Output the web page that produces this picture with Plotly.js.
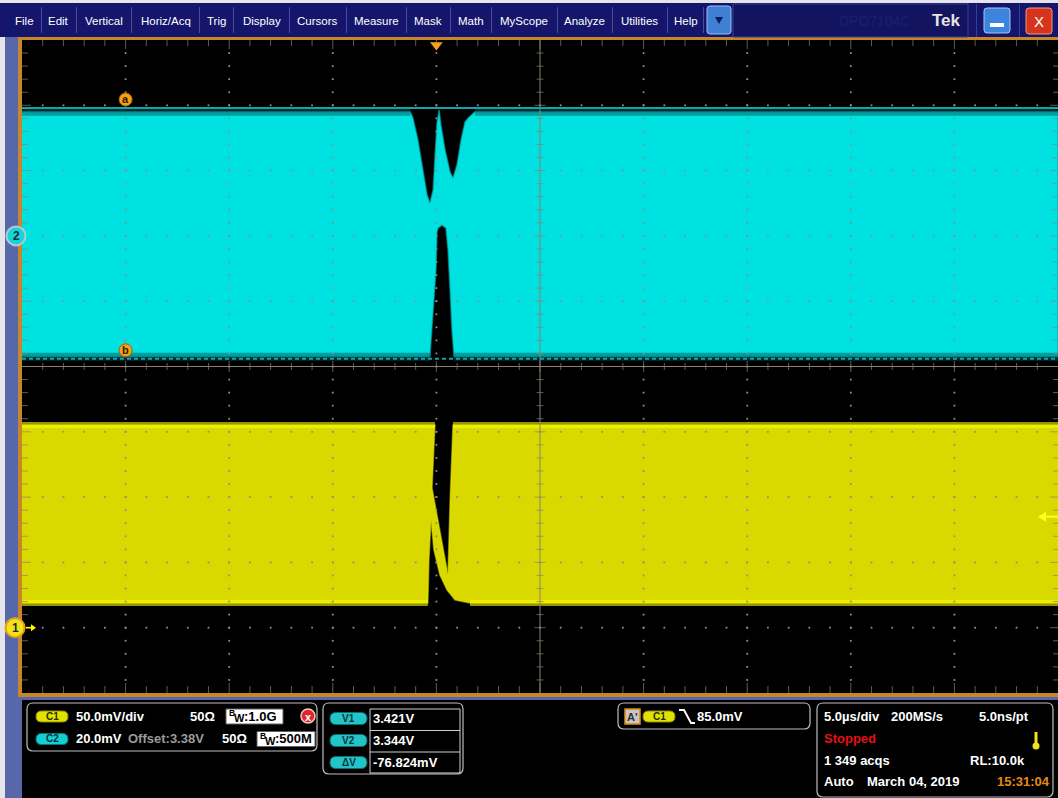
<!DOCTYPE html>
<html>
<head>
<meta charset="utf-8">
<script src="https://cdn.plot.ly/plotly-3.0.1.min.js"></script>
<style>
  html, body { margin: 0; padding: 0; background: #000; overflow: hidden; }
  #scope { width: 1058px; height: 798px; }
</style>
</head>
<body>
<div id="scope"></div>
<script>
// ---------------- acquisition data ----------------
// Channel 2 persistence envelope outline (time in µs, volts): top edge left->right, bottom edge right->left
const c2Time = [-20, -1.27, -1.13, -0.89, -0.65, -0.45, -0.31, -0.16, -0.07, 0.03, 0.13, 0.22, 0.42, 0.66, 0.80, 0.99, 1.19, 1.38, 1.53, 1.86, 30,
                30, 0.85, 0.75, 0.66, 0.56, 0.46, 0.27, 0.08, 0.03, -0.02, -0.16, -0.26, -0.31, -20];
const c2Volt = [3.4200, 3.4200, 3.4181, 3.4114, 3.4022, 3.3945, 3.3921, 3.3961, 3.4062, 3.4166, 3.4206, 3.4160, 3.4083, 3.4016, 3.3997, 3.4037, 3.4114, 3.4169, 3.4181, 3.4200, 3.4200,
                3.3450, 3.3450, 3.3532, 3.3654, 3.3777, 3.3844, 3.3853, 3.3844, 3.3832, 3.3716, 3.3593, 3.3501, 3.3450, 3.3450];

// Channel 1 persistence envelope outline (time in µs, volts)
const c1Time = [-20, -0.07, -0.21, 0.17, 0.56, 0.66, 0.80, 30,
                30, 1.62, 0.90, 0.51, 0.17, -0.12, -0.26, -0.36, -0.41, -20];
const c1Volt = [0.1552, 0.1552, 0.1070, 0.0748, 0.0404, 0.0978, 0.1552, 0.1552,
                0.0189, 0.0189, 0.0212, 0.0289, 0.0404, 0.0595, 0.0825, 0.0518, 0.0189, 0.0189];

// vertical / horizontal / trigger settings
const channelNames = ['C1', 'C2'];
const channelScale = [0.05, 0.02];      // V/div
const channelPosition = [-4, 2];        // div
const channelOffset = [0, 3.382];       // V
const channelTermination = ['50Ω', '50Ω'];
const channelBandwidth = ['1.0G', '500M'];
const timePerDiv = 5;                   // µs/div
const triggerTime = 0;                  // µs
const triggerDivFromLeft = 4;
const triggerLevel = 0.085;             // V on C1
const cursorNames = ['a', 'b'];
const cursorVolts = [3.42118, 3.344356]; // V on C2
const cursorTime = -15;                 // µs, where cursor tags sit

const menuLabels = ['File', 'Edit', 'Vertical', 'Horiz/Acq', 'Trig', 'Display', 'Cursors', 'Measure', 'Mask', 'Math', 'MyScope', 'Analyze', 'Utilities', 'Help'];
const acqLines = [['5.0µs/div', '200MS/s', '5.0ns/pt'], ['Stopped'], ['1 349 acqs', 'RL:10.0k'], ['Auto', 'March 04, 2019', '15:31:04']];

// ---------------- geometry helpers (pixel -> paper) ----------------
const L = 22, T = 40, PW = 1036, PH = 653;
const px = x => (x - L) / PW;
const py = y => (T + PH - y) / PH;
const pyInv = p => T + PH * (1 - p);
const FONT = 'Liberation Sans, Arial, sans-serif';

const HDIV = 10, VDIV = 10;
const xRange = [triggerTime - triggerDivFromLeft * timePerDiv, triggerTime + (HDIV - triggerDivFromLeft) * timePerDiv];
const chRange = i => [channelOffset[i] + (-VDIV / 2 - channelPosition[i]) * channelScale[i],
                      channelOffset[i] + (VDIV / 2 - channelPosition[i]) * channelScale[i]];
const c1Range = chRange(0), c2Range = chRange(1);
const xp = t => (t - xRange[0]) / (xRange[1] - xRange[0]);
const yp = (v, r) => (v - r[0]) / (r[1] - r[0]);
const pxPerUs = PW / (xRange[1] - xRange[0]);
const pxPerDiv = PH / VDIV;

const shapes = [];
const ann = [];

function rrPath(x0, y0, x1, y1, r) {
  const P = (x, y) => px(x) + ',' + py(y);
  return 'M' + P(x0 + r, y0) + ' L' + P(x1 - r, y0) + ' Q' + P(x1, y0) + ' ' + P(x1, y0 + r) +
         ' L' + P(x1, y1 - r) + ' Q' + P(x1, y1) + ' ' + P(x1 - r, y1) +
         ' L' + P(x0 + r, y1) + ' Q' + P(x0, y1) + ' ' + P(x0, y1 - r) +
         ' L' + P(x0, y0 + r) + ' Q' + P(x0, y0) + ' ' + P(x0 + r, y0) + ' Z';
}
function polyPath(pts, close) {
  return pts.map((p, i) => (i ? 'L' : 'M') + px(p[0]) + ',' + py(p[1])).join(' ') + (close ? ' Z' : '');
}
function rbox(x0, y0, x1, y1, fill, line, lw, r) {
  shapes.push({type: 'path', xref: 'paper', yref: 'paper', path: rrPath(x0, y0, x1, y1, r),
    fillcolor: fill || 'rgba(0,0,0,0)', line: {color: line || 'rgba(0,0,0,0)', width: lw || 0}, layer: 'above'});
}
function rect(x0, y0, x1, y1, fill, line, lw) {
  shapes.push({type: 'rect', xref: 'paper', yref: 'paper', x0: px(x0), x1: px(x1), y0: py(y1), y1: py(y0),
    fillcolor: fill || 'rgba(0,0,0,0)', line: {color: line || 'rgba(0,0,0,0)', width: lw || 0}, layer: 'above'});
}
function hline(x0, x1, y, color, w) {
  shapes.push({type: 'line', xref: 'paper', yref: 'paper', x0: px(x0), x1: px(x1), y0: py(y), y1: py(y), line: {color: color, width: w}, layer: 'above'});
}
function arrowRight(x0, x1, y, color) {
  // stem then filled head pointing right
  shapes.push({type: 'line', xref: 'paper', yref: 'paper', x0: px(x0), x1: px(x1 - 4), y0: py(y), y1: py(y), line: {color: color, width: 1.6}, layer: 'above'});
  shapes.push({type: 'path', xref: 'paper', yref: 'paper', path: polyPath([[x1 - 5, y - 3.5], [x1, y], [x1 - 5, y + 3.5]], true),
    fillcolor: color, line: {width: 0}, layer: 'above'});
}
function arrowLeft(x0, x1, y, color) {
  shapes.push({type: 'line', xref: 'paper', yref: 'paper', x0: px(x0 + 6), x1: px(x1), y0: py(y), y1: py(y), line: {color: color, width: 2}, layer: 'above'});
  shapes.push({type: 'path', xref: 'paper', yref: 'paper', path: polyPath([[x0 + 8, y - 5], [x0, y], [x0 + 8, y + 5]], true),
    fillcolor: color, line: {width: 0}, layer: 'above'});
}
function circlePx(xPaper, yPaper, r, fill, line, lw) {
  shapes.push({type: 'circle', xref: 'paper', yref: 'paper', xsizemode: 'pixel', ysizemode: 'pixel',
    xanchor: xPaper, yanchor: yPaper, x0: -r, x1: r, y0: -r, y1: r,
    fillcolor: fill, line: {color: line || 'rgba(0,0,0,0)', width: lw || 0}, layer: 'above'});
}
function textPaper(xPaper, yPaper, str, o) {
  o = o || {};
  ann.push({xref: 'paper', yref: 'paper', x: xPaper, y: yPaper, text: str, showarrow: false,
    xanchor: o.anchor || 'left', yanchor: 'middle', borderpad: 0, yshift: o.yshift || 0, xshift: o.xshift || 0,
    font: {family: o.family || FONT, size: o.size || 13, color: o.color || '#ffffff'}});
}
function text(x, y, str, o) { textPaper(px(x), py(y), str, o); }
const B = s => '<b>' + s + '</b>';

// ---------------- window chrome ----------------
rect(0, 0, 1058, 3, '#e4e4ea');
rect(0, 0, 5, 798, '#e4e4ea');
rect(0, 3, 1058, 37, '#15166b');
rect(5, 37, 18, 798, '#5866aa');
rect(5, 697, 22, 798, '#5866aa');
rect(18, 697, 1058, 700, '#5866aa');
// orange frame around the graticule
rect(18, 37, 22, 697, '#c8862a');
rect(18, 37, 1058, 40, '#c8862a');
rect(18, 693, 1058, 697, '#c8862a');

// menu bar
const menuCenters = [24.5, 58, 104, 165.5, 216, 262, 317, 376, 428, 470.5, 524, 584.5, 639.5, 686];
const menuSeps = [41, 76, 131, 199, 233, 289, 346, 406, 450, 491, 557, 612, 667, 703];
menuSeps.forEach(x => rect(x, 7, x + 1, 33, '#474c9c'));
menuLabels.forEach((m, i) => text(menuCenters[i], 20.5, m, {anchor: 'center', size: 11.5}));
rbox(707, 6, 731, 34, '#3f7fd4', '#96bff2', 1, 3);
shapes.push({type: 'path', xref: 'paper', yref: 'paper', path: polyPath([[715, 17], [723, 17], [719, 24]], true),
  fillcolor: '#0b1b60', line: {width: 0}, layer: 'above'});
rect(733, 4, 968, 37, '#121460', '#34418e', 1);
text(875, 20.5, 'DPO7104C', {anchor: 'center', size: 14, color: '#19206e'});
text(946, 20, B('Tek'), {anchor: 'center', size: 17, color: '#e4e4e4'});
rect(976, 4, 977, 37, '#34418e');
rect(1019, 4, 1020, 37, '#34418e');
rbox(984, 8, 1010, 33, '#3d84de', '#a2c8f4', 1, 3);
rect(990, 23, 1004, 27, '#ffffff');
rbox(1026, 8, 1052, 34, '#d6341c', '#f29a80', 1, 3);
text(1039, 21.5, 'X', {anchor: 'center', size: 15, color: '#ffffff'});

// ---------------- channel / cursor / trigger markers ----------------
const chColor = ['#ffff00', '#00e2e2'];
const markerFill = ['#f2e414', '#12d6dc'];
const markerRing = ['#e3a020', '#b8c8cc'];
const markerX = [15, 16];
[0, 1].forEach(i => {
  const yP = (channelPosition[i] + VDIV / 2) / VDIV;
  circlePx(px(markerX[i]), yP, 9.5, markerFill[i], markerRing[i], 2);
  textPaper(px(markerX[i]), yP, B(String(i + 1)), {anchor: 'center', size: 12, color: '#1a2a30'});
  arrowRight(26, 36, pyInv(yP), chColor[i]);
});

// cursors a / b on channel 2
cursorVolts.forEach((v, i) => {
  shapes.push({type: 'line', xref: 'paper', yref: 'y2', x0: 0, x1: 1, y0: v, y1: v,
    line: {color: '#12a4aa', width: 2, dash: i === 0 ? 'solid' : '4px,3px'}, layer: 'above'});
});
cursorVolts.forEach((v, i) => {
  const yP = yp(v, c2Range);
  shapes.push({type: 'circle', xref: 'paper', yref: 'paper', xsizemode: 'pixel', ysizemode: 'pixel',
    xanchor: xp(cursorTime), yanchor: yP, x0: -6.5, x1: 6.5, y0: 2, y1: 15,
    fillcolor: '#f2a414', line: {color: '#a86000', width: 1}, layer: 'above'});
  textPaper(xp(cursorTime), yP, B(cursorNames[i]), {anchor: 'center', size: 11, color: '#2a1800', yshift: 8.5});
});

// trigger level arrow on the right edge (channel 1)
arrowLeft(1038, 1058, pyInv(yp(triggerLevel, c1Range)), '#ffff20');

// ---------------- readout panels ----------------
const fmtV = v => v.toFixed(3) + 'V';
const fmtmV = v => (v * 1000).toFixed(1) + 'mV';
const panel = '#bdbdbd';

// vertical settings
rbox(27, 703, 317, 751, null, panel, 1.2, 6);
const rowY = [716.5, 739];
const bwBox = [[226, 283], [257, 315]];
const termX = [216, 248];
[0, 1].forEach(i => {
  const y = rowY[i];
  rbox(36, y - 5.5, 68, y + 5.5, i === 0 ? '#e2e200' : '#14cfd2', i === 0 ? '#8a8a00' : '#0a7676', 1, 5.5);
  text(52, y, B(channelNames[i]), {anchor: 'center', size: 10, color: i === 0 ? '#2a2a00' : '#05303a'});
  text(termX[i], y, B(channelTermination[i]), {anchor: 'right'});
  rect(bwBox[i][0], y - 7.5, bwBox[i][1], y + 7.5, '#ffffff', '#606060', 1);
  // bandwidth tag: small raised "B" then lowered "W" and the value
  text(bwBox[i][0] + 2, y - 3.5, B('B'), {color: '#000000', size: 8.5});
  text(bwBox[i][0] + 7, y + 1.5, B('W'), {color: '#000000', size: 11});
  text(bwBox[i][0] + 17, y, B(':' + channelBandwidth[i]), {color: '#000000', size: 13});
});
text(75, rowY[0], B(fmtmV(channelScale[0]) + '/div'));
text(75, rowY[1], B(fmtmV(channelScale[1])));
text(127, rowY[1], B('Offset:' + channelOffset[1].toFixed(2) + 'V'), {color: '#9a9a9a'});
circlePx(px(308), py(716), 7, '#e02828', '#f4c8c8', 1.5);
text(308, 716.5, B('x'), {anchor: 'center', size: 11, color: '#ffffff'});

// cursor readouts
rbox(323, 703, 463, 774, null, panel, 1.2, 6);
rect(370, 709, 460, 773, null, '#d0d0d0', 1);
hline(370, 460, 730.5, '#d0d0d0', 1);
hline(370, 460, 752, '#d0d0d0', 1);
const deltaV = cursorVolts[1] - cursorVolts[0];
const cursorRows = [['V1', fmtV(cursorVolts[0])], ['V2', fmtV(cursorVolts[1])], ['ΔV', (deltaV * 1000).toFixed(3) + 'mV']];
const cursorRowY = [718.5, 740.5, 762.5];
cursorRows.forEach((r, i) => {
  const y = cursorRowY[i];
  rbox(330, y - 6, 367, y + 6, '#22c4c8', '#0d7070', 1, 6);
  text(348.5, y, B(r[0]), {anchor: 'center', size: 10, color: '#05343c'});
  text(372, y, B(r[1]));
});

// trigger readout
rbox(618, 703, 810, 729, null, panel, 1.2, 6);
rect(625, 709, 640, 724, '#c6c6c6', '#e08a10', 1.5);
text(632.5, 716.5, B("A'"), {anchor: 'center', size: 11, color: '#303030'});
rbox(643, 711, 675, 722, '#e2e200', '#8a8a00', 1, 5.5);
text(659, 716.5, B(channelNames[0]), {anchor: 'center', size: 10, color: '#2a2a00'});
shapes.push({type: 'path', xref: 'paper', yref: 'paper', layer: 'above', line: {color: '#ffffff', width: 2},
  path: polyPath([[679, 710], [684, 710], [691, 723], [695, 723]], false)});
text(696, 716.5, B(fmtmV(triggerLevel)));

// horizontal / acquisition readout
rbox(817, 703, 1053, 797, null, panel, 1.2, 6);
text(823, 716.5, B(acqLines[0][0]));
text(890, 716.5, B(acqLines[0][1]));
text(978, 716.5, B(acqLines[0][2]));
text(823, 738.5, B(acqLines[1][0]), {color: '#e81010'});
text(823, 760.5, B(acqLines[2][0]));
text(969, 760.5, B(acqLines[2][1]));
text(823, 782, B(acqLines[3][0]));
text(866, 782, B(acqLines[3][1]));
text(996, 782, B(acqLines[3][2]), {color: '#e88a10'});
rect(1034.5, 732, 1037.5, 745, '#f2e21c');
circlePx(px(1036), py(746), 3.5, '#f2e21c');

// ---------------- graticule (in divisions, drawn over the waveforms) ----------------
const gridColor = '#8a8272';
const dotX = [], dotY = [];
const tCenter = xRange[0] + (HDIV / 2) * timePerDiv;
for (let i = 1; i < HDIV; i++) {
  if (i === HDIV / 2) continue;
  for (let k = 1; k < VDIV * 5; k++) { dotX.push(xRange[0] + i * timePerDiv); dotY.push(-VDIV / 2 + k * 0.2); }
}
for (let d = -VDIV / 2 + 1; d < VDIV / 2; d++) {
  if (d === 0) continue;
  for (let k = 1; k < HDIV * 5; k++) { dotX.push(xRange[0] + k * timePerDiv / 5); dotY.push(d); }
}
const nsX = [], nsY = [], nsS = [];
const ewX = [], ewY = [], ewS = [];
for (let k = 1; k < HDIV * 5; k++) {
  const t = xRange[0] + k * timePerDiv / 5, major = k % 5 === 0;
  let len = major ? 9 : 6;
  nsX.push(t); nsY.push(VDIV / 2 - len / 2 / pxPerDiv); nsS.push(len / 1.4);
  len = major ? 10 : 7;
  nsX.push(t); nsY.push(-VDIV / 2 + len / 2 / pxPerDiv); nsS.push(len / 1.4);
  len = major ? 11 : 7;
  nsX.push(t); nsY.push(0); nsS.push(len / 1.4);
}
for (let k = 1; k < VDIV * 5; k++) {
  const d = -VDIV / 2 + k * 0.2, major = k % 5 === 0;
  let len = major ? 9 : 6;
  ewX.push(xRange[0] + len / 2 / pxPerUs); ewY.push(d); ewS.push(len / 1.4);
  len = major ? 8 : 5;
  ewX.push(xRange[1] - len / 2 / pxPerUs); ewY.push(d); ewS.push(len / 1.4);
  len = major ? 11 : 7;
  ewX.push(tCenter); ewY.push(d); ewS.push(len / 1.4);
}

// flat (noise-fringed) stretches of an envelope outline: consecutive points at equal level
function flatRuns(xs, ys) {
  const runs = [];
  for (let i = 0; i + 1 < xs.length; i++) {
    if (ys[i] === ys[i + 1] && xs[i] !== xs[i + 1]) runs.push([[xs[i], xs[i + 1]], [ys[i], ys[i + 1]]]);
  }
  return runs;
}
const fringe = (xs, ys, axis, color, width) => flatRuns(xs, ys).map(r => ({
  x: r[0], y: r[1], yaxis: axis, mode: 'lines', line: {color: color, width: width}, hoverinfo: 'skip'}));

const traces = [].concat(
  // channel 1 envelope
  [{x: c1Time, y: c1Volt, yaxis: 'y', mode: 'lines', fill: 'toself', fillcolor: '#d9d900',
    line: {color: 'rgba(235,235,0,0.5)', width: 1.5}, hoverinfo: 'skip'}],
  fringe(c1Time, c1Volt, 'y', 'rgba(250,250,0,0.6)', 6),
  // channel 2 envelope
  [{x: c2Time, y: c2Volt, yaxis: 'y2', mode: 'lines', fill: 'toself', fillcolor: '#00e2e2',
    line: {color: 'rgba(0,170,170,0.6)', width: 1.5}, hoverinfo: 'skip'}],
  fringe(c2Time, c2Volt, 'y2', 'rgba(0,90,90,0.5)', 8),
  [
    // graticule
    {x: [tCenter, tCenter], y: [-VDIV / 2, VDIV / 2], yaxis: 'y3', mode: 'lines', line: {color: gridColor, width: 1}, hoverinfo: 'skip'},
    {x: xRange, y: [0, 0], yaxis: 'y3', mode: 'lines', line: {color: gridColor, width: 1}, hoverinfo: 'skip'},
    {x: dotX, y: dotY, yaxis: 'y3', mode: 'markers', marker: {symbol: 'square', size: 1.8, color: '#8e8e8e'}, hoverinfo: 'skip'},
    {x: nsX, y: nsY, yaxis: 'y3', mode: 'markers', marker: {symbol: 'line-ns', size: nsS, color: gridColor, line: {color: gridColor, width: 1}}, hoverinfo: 'skip'},
    {x: ewX, y: ewY, yaxis: 'y3', mode: 'markers', marker: {symbol: 'line-ew', size: ewS, color: gridColor, line: {color: gridColor, width: 1}}, hoverinfo: 'skip'},
    // trigger position indicator
    {x: [triggerTime], y: [VDIV / 2 - 5 / pxPerDiv], yaxis: 'y3', mode: 'markers', cliponaxis: false,
     marker: {symbol: 'triangle-down', size: 11, color: '#f4a21c', line: {width: 0}}, hoverinfo: 'skip'}
  ]
);

const layout = {
  width: 1058, height: 798,
  margin: {l: L, r: 0, t: T, b: 798 - T - PH, pad: 0},
  paper_bgcolor: '#000000', plot_bgcolor: '#000000',
  showlegend: false, hovermode: false,
  font: {family: FONT, color: '#ffffff'},
  xaxis: {range: xRange, visible: false, fixedrange: true},
  yaxis: {range: c1Range, visible: false, fixedrange: true},
  yaxis2: {range: c2Range, overlaying: 'y', visible: false, fixedrange: true},
  yaxis3: {range: [-VDIV / 2, VDIV / 2], overlaying: 'y', visible: false, fixedrange: true},
  shapes: shapes,
  annotations: ann
};

Plotly.newPlot('scope', traces, layout, {staticPlot: true, displayModeBar: false});
</script>
</body>
</html>
